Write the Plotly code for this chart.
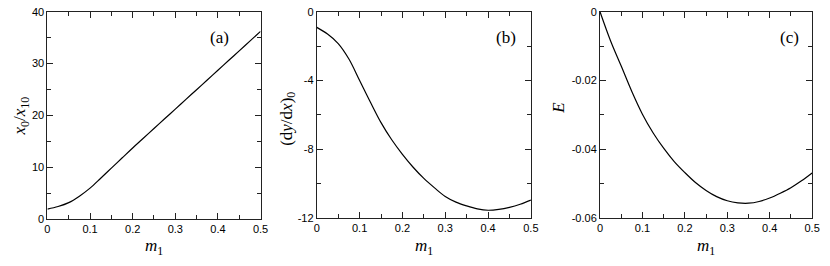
import plotly.graph_objects as go

# ---- data ----
m1 = [0.0, 0.025, 0.05, 0.075, 0.1, 0.125, 0.15, 0.175, 0.2, 0.225, 0.25,
      0.275, 0.3, 0.325, 0.35, 0.375, 0.4, 0.425, 0.45, 0.475, 0.5]

x0_over_x10 = [1.9, 2.4, 3.15, 4.4, 5.95, 7.85, 9.8, 11.75, 13.7, 15.58, 17.45,
               19.33, 21.2, 23.08, 24.95, 26.83, 28.7, 30.58, 32.45, 34.33, 36.2]

dydx0 = [-0.91, -1.3, -1.85, -2.75, -4.0, -5.25, -6.45, -7.45, -8.3, -9.05, -9.7,
         -10.25, -10.75, -11.08, -11.3, -11.47, -11.55, -11.5, -11.38, -11.2, -10.96]

energy = [0.0, -0.0085, -0.0158, -0.0232, -0.0298, -0.0352, -0.0397, -0.0436, -0.0468,
          -0.0497, -0.0520, -0.0538, -0.0550, -0.0556, -0.0557, -0.0552, -0.0542,
          -0.0528, -0.0512, -0.0492, -0.0469]

x_ticks = [0, 0.1, 0.2, 0.3, 0.4, 0.5]
x_tick_labels = ["0", "0.1", "0.2", "0.3", "0.4", "0.5"]
a_ticks = [0, 10, 20, 30, 40]
b_ticks = [0, -4, -8, -12]
c_ticks = [0, -0.02, -0.04, -0.06]
c_tick_labels = ["0", "-0.02", "-0.04", "-0.06"]

W, H = 830, 266
def px(x):
    return x / W
def py(y):
    return 1 - y / H

panels = [
    dict(x0=45, x1=261, y0=6, y1=223),
    dict(x0=318, x1=535, y0=6, y1=222),
    dict(x0=605, x1=820, y0=6, y1=222),
]

fig = go.Figure()
series = [x0_over_x10, dydx0, energy]
for i, ys in enumerate(series):
    sfx = "" if i == 0 else str(i + 1)
    fig.add_trace(go.Scatter(x=m1, y=ys, mode="lines", line=dict(color="black", width=1.2, shape="spline"),
                             xaxis="x" + sfx, yaxis="y" + sfx, showlegend=False, hoverinfo="skip"))

tickfont = dict(family="Liberation Sans, Arial, sans-serif", size=11, color="black")
common = dict(showline=True, linecolor="#222", linewidth=1, mirror="ticks", ticks="inside",
              ticklen=6, tickcolor="#222", tickwidth=1, showgrid=False, zeroline=False,
              tickfont=tickfont, ticklabeloverflow="allow")

layout = dict(width=W, height=H, margin=dict(l=0, r=0, t=0, b=0),
              plot_bgcolor="white", paper_bgcolor="white", showlegend=False)

def pad(lo, hi):
    s = (hi - lo) * 1e-4
    return [lo - s, hi + s]

yspecs = [
    dict(range=pad(0, 40), tickvals=a_ticks, ticktext=[str(t) for t in a_ticks], minor_dtick=5),
    dict(range=pad(-12, 0), tickvals=b_ticks, ticktext=[str(t) for t in b_ticks], minor_dtick=2),
    dict(range=pad(-0.06, 0), tickvals=c_ticks, ticktext=c_tick_labels, minor_dtick=0.01),
]
for i, p in enumerate(panels):
    sfx = "" if i == 0 else str(i + 1)
    xa = dict(common)
    xa.update(domain=[px(p["x0"]), px(p["x1"])], range=pad(0, 0.5), tickvals=x_ticks, ticktext=x_tick_labels,
              anchor="y" + sfx,
              minor=dict(ticks="inside", ticklen=4, tickcolor="#222", dtick=0.05, tick0=0, showgrid=False))
    ys = yspecs[i]
    ya = dict(common)
    ya.update(domain=[py(p["y1"]), py(p["y0"])], range=ys["range"], tickvals=ys["tickvals"],
              ticktext=ys["ticktext"], anchor="x" + sfx,
              minor=dict(ticks="inside", ticklen=4, tickcolor="#222", dtick=ys["minor_dtick"], tick0=0, showgrid=False))
    layout["xaxis" + sfx] = xa
    layout["yaxis" + sfx] = ya

serif = "Liberation Serif, Times New Roman, serif"
annotations = []
# x titles
for p in panels:
    annotations.append(dict(text="<i>m</i><sub>1</sub>", x=px((p["x0"] + p["x1"]) / 2), y=py(252),
                            xref="paper", yref="paper", showarrow=False,
                            font=dict(family=serif, size=17, color="black"), xanchor="center", yanchor="middle"))
# y titles
ytitles = [("<i>x</i><sub>0</sub>/<i>x</i><sub>10</sub>", 18, 115),
           ("(d<i>y</i>/d<i>x</i>)<sub>0</sub>", 288, 118),
           ("<i>E</i>", 563, 107)]
for t, xx, yy in ytitles:
    annotations.append(dict(text=t, x=px(xx), y=py(yy), xref="paper", yref="paper", showarrow=False,
                            textangle=-90, font=dict(family=serif, size=17, color="black"),
                            xanchor="center", yanchor="middle"))
# panel labels
for lab, xx in [("(a)", 219), ("(b)", 510), ("(c)", 797)]:
    annotations.append(dict(text=lab, x=px(xx), y=py(33), xref="paper", yref="paper", showarrow=False,
                            font=dict(family=serif, size=17, color="black"), xanchor="center", yanchor="middle"))
layout["annotations"] = annotations

fig.update_layout(**layout)
fig.write_html("out.html", config={"displayModeBar": False},
               post_script="document.body.style.margin='0';document.body.style.overflow='hidden';")
